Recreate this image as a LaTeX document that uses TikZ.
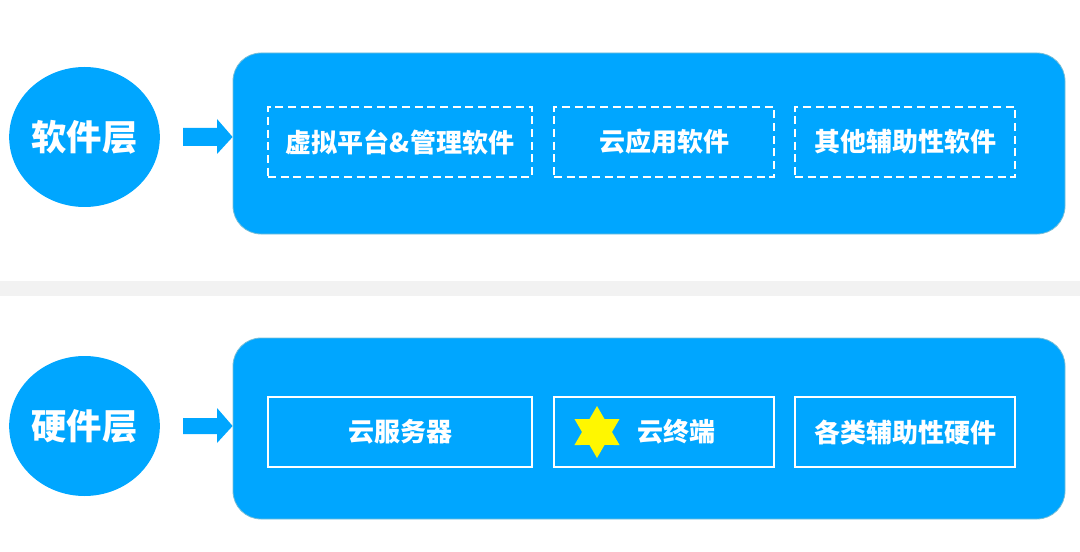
\documentclass[tikz,border=0pt]{standalone}
\usepackage{fontspec}
\setmainfont{Noto Sans CJK SC}
\usetikzlibrary{shapes.geometric,positioning}
\definecolor{layerblue}{RGB}{0,166,255}
\definecolor{layeredge}{RGB}{120,190,215}
\definecolor{bandgray}{RGB}{242,242,242}
\definecolor{staryellow}{RGB}{255,247,0}

\tikzset{
    layername/.style={ellipse, fill=layerblue, minimum width=113pt, minimum height=105pt,
        inner sep=0pt, text=white, font=\fontsize{26.5}{26.5}\selectfont\bfseries},
    layerframe/.style={rectangle, rounded corners=21pt, fill=layerblue, draw=layeredge,
        line width=0.6pt, minimum width=624pt, minimum height=135.75pt},
    partbox/.style={rectangle, draw=white, line width=1.5pt, minimum height=52.5pt,
        text=white, font=\fontsize{19.5}{19.5}\selectfont\bfseries},
    softbox/.style={partbox, dash pattern=on 6pt off 3.5pt},
    pointer/.style={fill=layerblue, draw=none}
}

\begin{document}
\begin{tikzpicture}[x=0.75pt, y=-0.75pt]
    \useasboundingbox (0,0) rectangle (1080,552);
    % separator
    \fill[bandgray] (0,281) rectangle (1080,296);
    % software layer
    \node[layername] (soft) at (84.5,137) {软件层};
    \node[layerframe] (softframe) at (649,143.5) {};
    \coordinate (softtip) at (softframe.west |- soft);
    \fill[pointer] (183,128) -- (217,128) -- (217,119) -- (softtip) -- (217,154) -- (217,146) -- (183,146) -- cycle;
    \node[softbox, minimum width=198pt] (virt) at (400,142) {虚拟平台\&管理软件};
    \node[softbox, minimum width=165pt] (cloudapp) at (664,142) {云应用软件};
    \node[softbox, minimum width=165pt] (othersoft) at (905,142) {其他辅助性软件};
    % hardware layer
    \node[layername] (hard) at (84.5,426) {硬件层};
    \node[layerframe] (hardframe) at (649,428.5) {};
    \coordinate (hardtip) at (hardframe.west |- hard);
    \fill[pointer] (183,418) -- (217,418) -- (217,408) -- (hardtip) -- (217,443) -- (217,434) -- (183,434) -- cycle;
    \node[partbox, minimum width=198pt] (server) at (400,432) {云服务器};
    \node[partbox, minimum width=165pt] (terminal) at (664,432) {\hspace*{18pt}云终端};
    \node[partbox, minimum width=165pt] (otherhard) at (905,432) {各类辅助性硬件};
    \coordinate (star) at (597,432);
    \begin{scope}[shift={(star)}]
        \fill[staryellow] (90:26) -- (60:15) -- (30:26) -- (0:15) -- (-30:26) -- (-60:15)
            -- (-90:26) -- (-120:15) -- (-150:26) -- (180:15) -- (150:26) -- (120:15) -- cycle;
    \end{scope}
\end{tikzpicture}
\end{document}
